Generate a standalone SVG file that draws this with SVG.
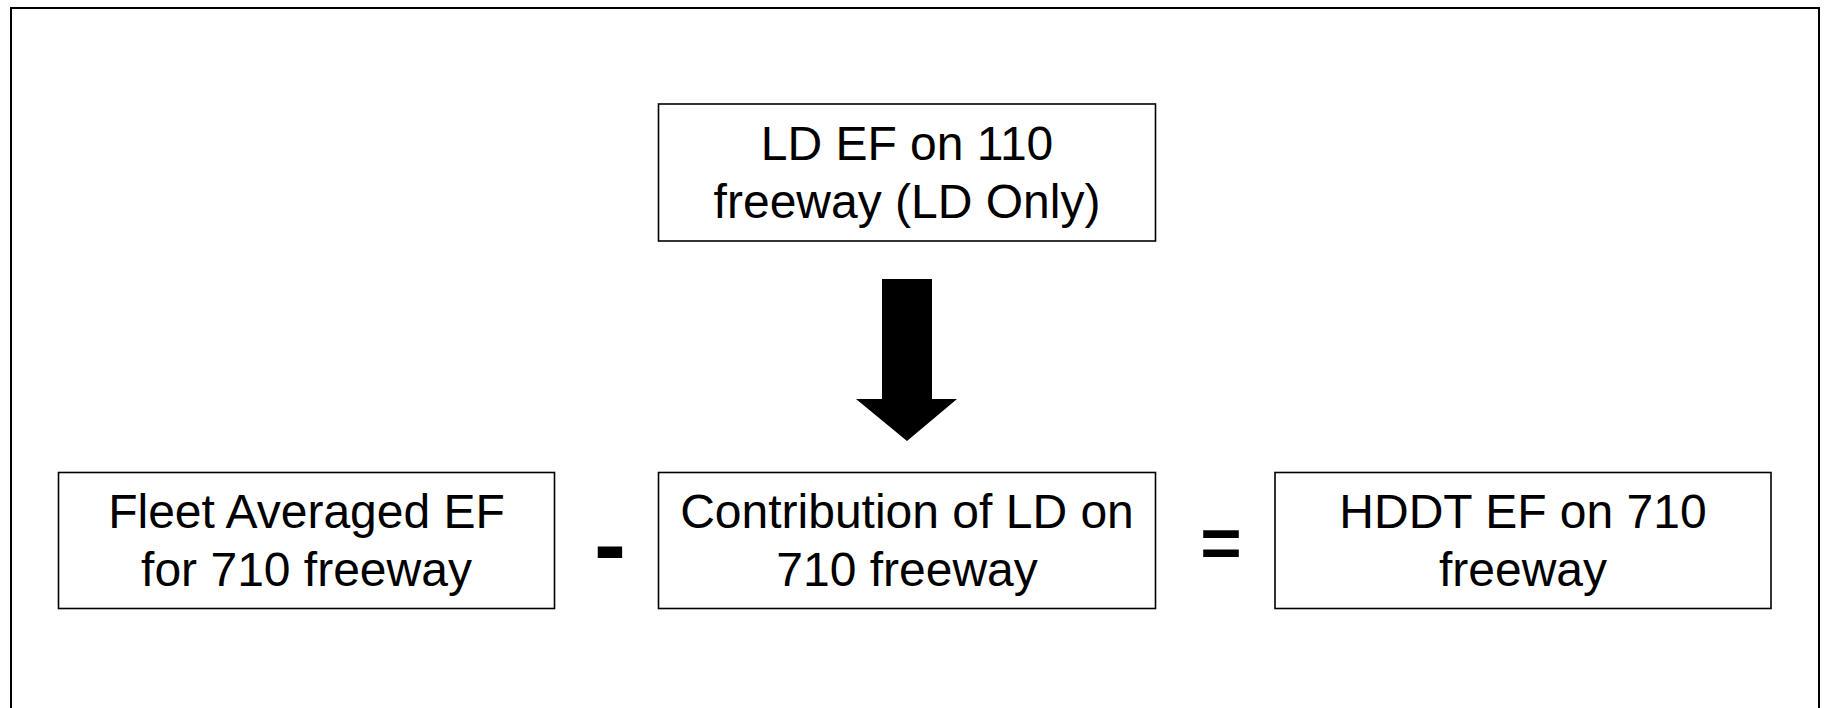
<svg xmlns="http://www.w3.org/2000/svg" width="1828" height="708" viewBox="0 0 1828 708">
<style>
.box{fill:#fff;stroke:#000;stroke-width:1.6}
.t{font-family:"Liberation Sans",Arial,sans-serif;font-size:48px;fill:#000;text-anchor:middle}
.op{font-family:"Liberation Sans",Arial,sans-serif;font-weight:bold;fill:#000;text-anchor:middle}
</style>
<rect x="0" y="0" width="1828" height="708" fill="#fff"/>
<rect id="frame" x="11" y="8" width="1808" height="720" fill="none" stroke="#000" stroke-width="2"/>
<g id="top">
<rect class="box" x="658.5" y="104" width="497" height="137"/>
<text class="t" x="907" y="160">LD EF on 110</text>
<text class="t" x="907" y="218">freeway (LD Only)</text>
</g>
<g id="fleet">
<rect class="box" x="58.5" y="472.5" width="496" height="136"/>
<text class="t" x="306.5" y="528">Fleet Averaged EF</text>
<text class="t" x="306.5" y="586">for 710 freeway</text>
</g>
<g id="contribution">
<rect class="box" x="658.5" y="472.5" width="497" height="136"/>
<text class="t" x="907" y="528">Contribution of LD on</text>
<text class="t" x="907" y="586">710 freeway</text>
</g>
<g id="hddt">
<rect class="box" x="1275" y="472.5" width="496" height="136"/>
<text class="t" x="1523" y="528">HDDT EF on 710</text>
<text class="t" x="1523" y="586">freeway</text>
</g>
<g id="operators">
<text class="op" x="610" y="577" font-size="96">-</text>
<text class="op" x="1221" y="567" font-size="71">=</text>
</g>
<g id="connectors">
<polygon points="882,279 932,279 932,399 957,399 907,441 856,399 882,399" fill="#000"/>
</g>
</svg>
